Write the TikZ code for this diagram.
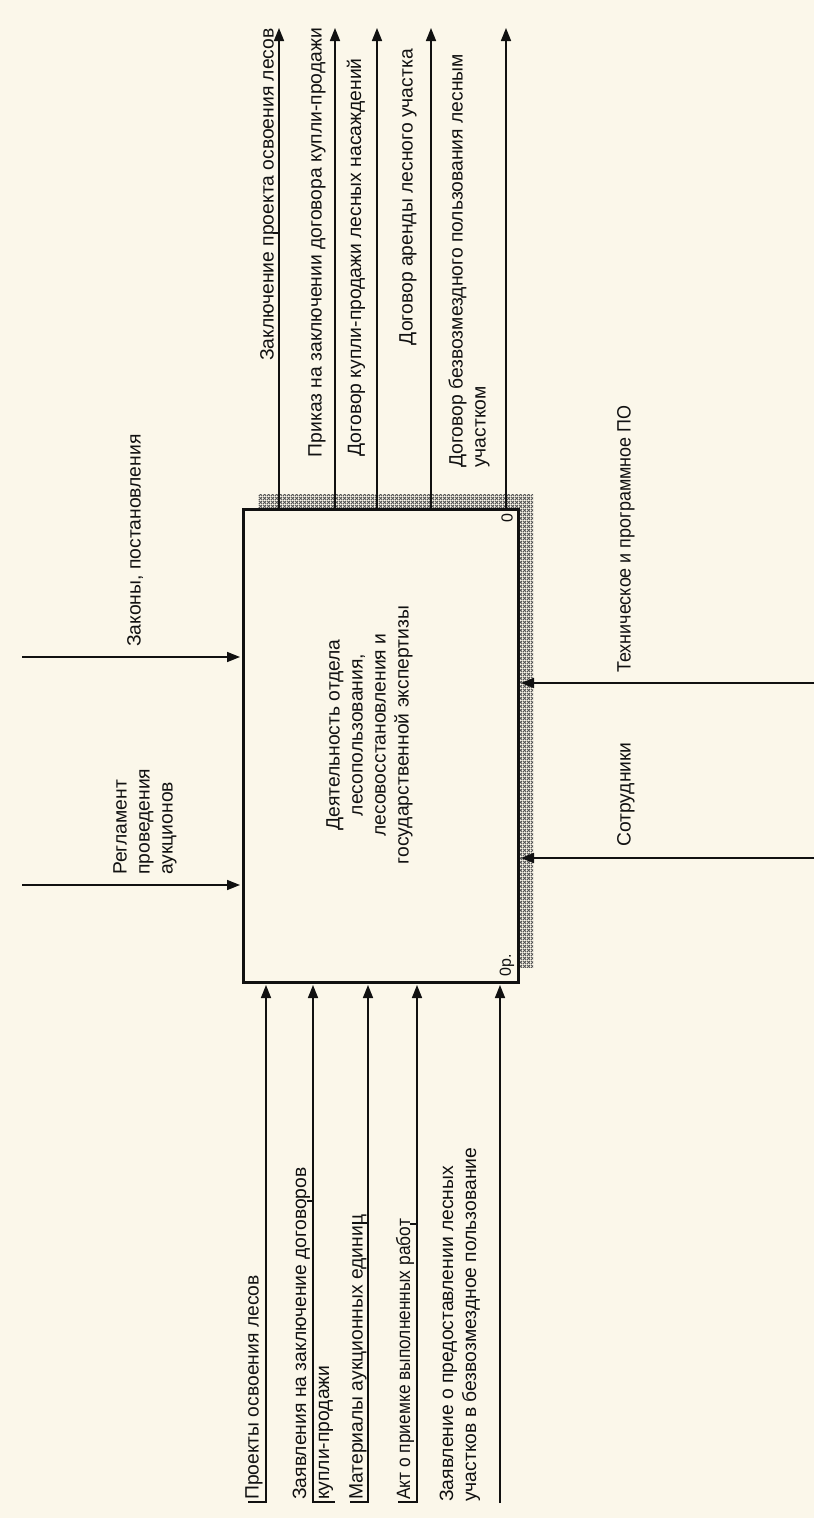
\documentclass[tikz,border=0pt]{standalone}
\usepackage{fontspec}
\setmainfont{Liberation Sans}
\usetikzlibrary{arrows.meta,patterns}
\definecolor{bgc}{HTML}{FBF7EA}
\definecolor{ink}{HTML}{111111}
\pgfdeclarepatternformonly{xhatch}{\pgfpointorigin}{\pgfqpoint{3.6pt}{3.6pt}}{\pgfqpoint{3.6pt}{3.6pt}}{%
  \pgfsetlinewidth{0.9pt}%
  \pgfpathmoveto{\pgfqpoint{0pt}{0pt}}\pgfpathlineto{\pgfqpoint{3.6pt}{3.6pt}}%
  \pgfpathmoveto{\pgfqpoint{0pt}{3.6pt}}\pgfpathlineto{\pgfqpoint{3.6pt}{0pt}}%
  \pgfusepath{stroke}}
\begin{document}
\begin{tikzpicture}[x=1pt,y=-1pt,
  lbl/.style={rotate=90, inner sep=0pt, text=ink, font=\fontsize{19.3}{23}\selectfont},
  small/.style={rotate=90, inner sep=0pt, text=ink, font=\fontsize{16}{18}\selectfont},
  arr/.style={line width=1.6pt, draw=ink, -{Triangle[length=13pt,width=10pt]}},
  tickline/.style={line width=1.4pt, draw=ink}]
\fill[bgc] (0,0) rectangle (814,1518);
\useasboundingbox (0,0) rectangle (814,1518);
% shadow hatch
\fill[pattern=xhatch, pattern color=black!68] (258,494) rectangle (533,967);
% main box
\node[draw=ink, line width=3pt, fill=bgc, minimum width=275pt, minimum height=473pt, inner sep=0pt] (main) at (380.5,745.5) {};
\node[lbl, align=center] (mainlbl) at (369.5,735) {Деятельность отдела\\лесопользования,\\лесовосстановления и\\государственной экспертизы};
\node[small] (num) at (507,518) {0};
\node[small] (cost) at (507,965) {0р.};
% outputs
\coordinate (o1) at (279,28);
\coordinate (o2) at (335,28);
\coordinate (o3) at (377,28);
\coordinate (o4) at (431,28);
\coordinate (o5) at (506,28);
\foreach \k in {1,...,5}{\draw[arr] (o\k |- main.north) -- (o\k);}
\node[lbl, anchor=east] (ol1) at (269,28) {Заключение проекта освоения лесов};
\node[lbl, anchor=east] (ol2) at (317,28) {Приказ на заключении договора купли-продажи};
\node[lbl, anchor=east] (ol3) at (356,58) {Договор купли-продажи лесных насаждений};
\node[lbl, anchor=east] (ol4) at (408,49) {Договор аренды лесного участка};
\node[lbl, anchor=west, align=left] (ol5) at (469,468) {Договор безвозмездного пользования лесным\\участком};
\draw[tickline] (273,233) -- (279,233);
% controls
\coordinate (c1) at (22,657);
\coordinate (c2) at (22,885);
\draw[arr, shorten >=1.5pt] (c1) -- (c1 -| main.west);
\draw[arr, shorten >=1.5pt] (c2) -- (c2 -| main.west);
\node[lbl, anchor=west] (cl1) at (135,647) {Законы, постановления};
\node[lbl, anchor=west, align=left] (cl2) at (145,875) {Регламент\\проведения\\аукционов};
% mechanisms
\coordinate (m1) at (814,683);
\coordinate (m2) at (814,858);
\draw[arr, shorten >=1.5pt] (m1) -- (m1 -| main.east);
\draw[arr, shorten >=1.5pt] (m2) -- (m2 -| main.east);
\node[lbl, anchor=west] (ml1) at (626,673) {\scalebox{0.93}[1]{Техническое и программное ПО}};
\node[lbl, anchor=west] (ml2) at (626,847) {Сотрудники};
% inputs
\coordinate (i1) at (266,1503);
\coordinate (i2) at (313,1503);
\coordinate (i3) at (368,1503);
\coordinate (i4) at (417,1503);
\coordinate (i5) at (500,1503);
\foreach \k in {1,...,5}{\draw[arr, shorten >=1.5pt] (i\k) -- (i\k |- main.south);}
\node[lbl, anchor=west] (il1) at (254,1500) {Проекты освоения лесов};
\node[lbl, anchor=west, align=left] (il2) at (313,1500) {Заявления на заключение договоров\\купли-продажи};
\node[lbl, anchor=west] (il3) at (358,1500) {Материалы аукционных единиц};
\node[lbl, anchor=west] (il4) at (405,1500) {\scalebox{0.9}[1]{Акт о приемке выполненных работ}};
\node[lbl, anchor=west, align=left] (il5) at (460,1502) {Заявление о предоставлении лесных\\участков в безвозмездное пользование};
% label ticks
\draw[tickline] (248,1502) -- (266,1502);
\draw[tickline] (313,1502) -- (335,1502);
\draw[tickline] (307,1201) -- (313,1201);
\draw[tickline] (350,1502) -- (368,1502);
\draw[tickline] (352,1223) -- (368,1223);
\draw[tickline] (398,1502) -- (417,1502);
\draw[tickline] (410,1224) -- (417,1224);
\end{tikzpicture}
\end{document}
